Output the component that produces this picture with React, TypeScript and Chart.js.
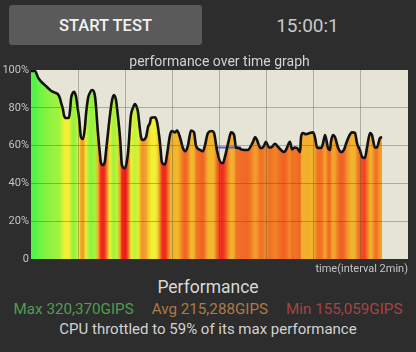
import React, { useEffect, useRef } from 'react';
import { Chart, registerables } from 'chart.js';

Chart.register(...registerables);

// time of each sample, minutes from test start
const sampleMinutes = [
  0, 0.17, 0.30, 0.42, 0.59, 0.72, 0.85, 1.02, 1.15, 1.23,
  1.27, 1.36, 1.40, 1.49, 1.61, 1.66, 1.70, 1.78, 1.82, 1.91,
  1.99, 2.04, 2.12, 2.21, 2.29, 2.33, 2.42, 2.50, 2.59, 2.72,
  2.84, 2.93, 2.97, 3.06, 3.14, 3.18, 3.27, 3.35, 3.44, 3.52,
  3.61, 3.65, 3.78, 3.86, 3.99, 4.07, 4.12, 4.24, 4.33, 4.41,
  4.50, 4.54, 4.62, 4.67, 4.75, 4.88, 4.97, 5.05, 5.09, 5.26,
  5.35, 5.47, 5.56, 5.69, 5.77, 5.90, 5.98, 6.11, 6.20, 6.32,
  6.45, 6.54, 6.66, 6.79, 6.92, 7.00, 7.17, 7.30, 7.38, 7.51,
  7.68, 7.77, 7.89, 8.06, 8.15, 8.23, 8.40, 8.49, 8.62, 8.70,
  8.83, 8.91, 9.08, 9.21, 9.34, 9.42, 9.51, 9.59, 9.72, 9.80,
  9.89, 9.97, 10.10, 10.19, 10.36, 10.44, 10.61, 10.74, 10.82, 10.99,
  11.08, 11.20, 11.29, 11.42, 11.46, 11.54, 11.67, 11.84, 11.97, 12.05,
  12.14, 12.31, 12.39, 12.48, 12.60, 12.69, 12.73, 12.82, 12.90, 13.03,
  13.16, 13.28, 13.37, 13.50, 13.62, 13.75, 13.84, 13.96, 14.05, 14.17,
  14.26, 14.39, 14.47, 14.60, 14.68, 14.81, 14.90,
];

// performance of each sample, % of max
const performancePct = [
  99.5, 99.5, 96, 94, 92, 90.5, 89, 88, 87, 85,
  83, 79, 76, 74.6, 74.6, 79, 85, 88, 88.5, 86,
  79, 74.6, 64.5, 63.5, 70, 76, 85, 88, 89.4, 85.7,
  67, 55, 50.8, 49.7, 52, 56.6, 67, 76, 84, 86.8,
  84, 80, 64, 49.7, 48, 52, 56.6, 76, 80, 82,
  80, 77.8, 69, 64.5, 63, 64.5, 70, 72, 74.6, 75,
  72.5, 62, 51, 50, 55, 65.6, 67.7, 67, 68, 64.5,
  58.7, 57, 60, 68, 67, 60, 57.7, 57, 60, 66.7,
  67.7, 66.7, 57.7, 51, 50.8, 54, 63, 67, 65.6, 59,
  58.7, 58, 57.7, 57.7, 60, 62, 64.5, 63, 59, 58.7,
  60, 62, 59, 59, 61, 60, 57.7, 56.6, 57.7, 62,
  58, 59, 58.7, 56.6, 64.5, 66.7, 66, 66.7, 67, 64.5,
  59, 58.7, 61, 65.6, 59, 57.7, 62, 65.6, 64.5, 59,
  56.6, 57.7, 61, 65, 67, 66.7, 61, 57.7, 54, 53.4,
  59, 66.7, 65.6, 59, 59, 64, 64.5,
];

// short blue marker segment
const markerMinutes = [7.89, 8.91];
const markerPct = [59, 59];

const yTickValues = [0, 20, 40, 60, 80, 100];
const xGridMinutes = [0, 2, 4, 6, 8, 10, 12, 14, 16];

const statLabels = ['Max 320,370GIPS', 'Avg 215,288GIPS', 'Min 155,059GIPS'];
const statColors = ['#4f9e4f', '#ad7b45', '#a64444'];

function perfColor(v: number): string {
  const h = Math.max(0, Math.min(120, (v - 49) * 2.3));
  const l = 53 + (h / 120) * 9;
  return `hsl(${h.toFixed(1)}, 88%, ${l.toFixed(1)}%)`;
}

const plotBackground = {
  id: 'plotBackground',
  beforeDraw(chart: any) {
    const { ctx, chartArea } = chart;
    if (!chartArea) return;
    ctx.save();
    ctx.fillStyle = '#e6e4d5';
    ctx.fillRect(chartArea.left, chartArea.top, chartArea.right - chartArea.left, chartArea.bottom - chartArea.top);
    ctx.restore();
  },
};

const gridColor = 'rgba(70,70,60,0.35)';

export default function App() {
  const ref = useRef<HTMLCanvasElement>(null);

  useEffect(() => {
    if (!ref.current) return;
    const chart = new Chart(ref.current, {
      type: 'line',
      data: {
        datasets: [
          {
            data: sampleMinutes.map((t, i) => ({ x: t, y: performancePct[i] })),
            borderColor: '#111111',
            borderWidth: 2.6,
            borderJoinStyle: 'round',
            pointRadius: 0,
            pointBackgroundColor: 'transparent',
            cubicInterpolationMode: 'monotone',
            fill: 'origin',
            backgroundColor: (ctx: any) => {
              const c = ctx.chart;
              const area = c.chartArea;
              const xs = c.scales && c.scales.x;
              if (!area || !xs) return 'rgba(0,0,0,0)';
              const g = c.ctx.createLinearGradient(area.left, 0, area.right, 0);
              const w = area.right - area.left;
              sampleMinutes.forEach((t, i) => {
                const p = (xs.getPixelForValue(t) - area.left) / w;
                g.addColorStop(Math.min(1, Math.max(0, p)), perfColor(performancePct[i]));
              });
              return g;
            },
          } as any,
          {
            data: markerMinutes.map((t, i) => ({ x: t, y: markerPct[i] })),
            borderColor: '#5564dc',
            borderWidth: 2,
            pointRadius: 0,
            fill: false,
          } as any,
        ],
      },
      options: {
        responsive: false,
        animation: false,
        devicePixelRatio: 1,
        layout: { padding: { left: 0, right: 8, top: 0, bottom: 0 } },
        plugins: {
          legend: { display: false },
          tooltip: { enabled: false },
          filler: { propagate: false, drawTime: 'beforeDatasetsDraw' } as any,
          title: {
            display: true,
            text: 'performance over time graph',
            color: '#d2d2d2',
            fullSize: false,
            font: { family: 'Roboto', size: 14, weight: 'normal', lineHeight: 1 },
            padding: { top: 3.5, bottom: 0.5 },
          },
        },
        scales: {
          x: {
            type: 'linear',
            min: 0,
            max: 16,
            afterBuildTicks: (s: any) => {
              s.ticks = xGridMinutes.map((v) => ({ value: v }));
            },
            afterFit: (s: any) => {
              s.height = 17;
            },
            ticks: { display: false },
            grid: {
              z: 1,
              drawTicks: false,
              color: (c: any) => (c.tick && (c.tick.value === 0 || c.tick.value === 16) ? 'rgba(0,0,0,0)' : gridColor),
              lineWidth: 1,
            },
            border: { display: false },
            title: {
              display: true,
              text: 'time(interval 2min)',
              align: 'end',
              color: '#c4c4c4',
              font: { family: 'Roboto', size: 11 },
              padding: { top: 0, bottom: 0.5 },
            },
          } as any,
          y: {
            type: 'linear',
            min: 0,
            max: 100,
            afterBuildTicks: (s: any) => {
              s.ticks = yTickValues.map((v) => ({ value: v }));
            },
            afterFit: (s: any) => {
              s.width = 31;
            },
            ticks: {
              color: '#c4c4c4',
              font: { family: 'Roboto', size: 11 },
              padding: 2,
              callback: (v: any) => (Number(v) === 0 ? '0' : v + '%'),
            },
            grid: {
              z: 1,
              drawTicks: false,
              color: (c: any) => (c.tick && (c.tick.value === 0 || c.tick.value === 100) ? 'rgba(0,0,0,0)' : gridColor),
              lineWidth: 1,
            },
            border: { display: false },
          } as any,
        },
      },
      plugins: [plotBackground],
    });
    return () => chart.destroy();
  }, []);

  const centered: React.CSSProperties = {
    position: 'absolute',
    display: 'flex',
    alignItems: 'center',
    justifyContent: 'center',
    whiteSpace: 'nowrap',
  };

  return (
    <div
      style={{
        position: 'fixed',
        left: 0,
        top: 0,
        width: 416,
        height: 352,
        background: '#2d2d2d',
        fontFamily: 'Roboto, "Noto Sans", sans-serif',
        overflow: 'hidden',
      }}
    >
      <div
        style={{
          ...centered,
          left: 9,
          top: 5,
          width: 193,
          height: 40,
          background: '#5a5a5a',
          borderRadius: 3,
          color: '#f2f2f2',
          fontSize: 16.5,
          fontWeight: 500,
        }}
      >
        START TEST
      </div>
      <div style={{ ...centered, left: 230, top: 5, width: 155, height: 41, color: '#c8c8c8', fontSize: 19 }}>
        15:00:1
      </div>
      <canvas
        ref={ref}
        width={416}
        height={224}
        style={{ position: 'absolute', left: 0, top: 52, width: 416, height: 224 }}
      />
      <div style={{ ...centered, left: 0, top: 277, width: 416, height: 20, color: '#d8d8d8', fontSize: 17.5 }}>
        Performance
      </div>
      <div style={{ ...centered, left: 0, top: 299, width: 416, height: 20, fontSize: 15.2, gap: 18 }}>
        {statLabels.map((s, i) => (
          <span key={s} style={{ color: statColors[i] }}>
            {s}
          </span>
        ))}
      </div>
      <div style={{ ...centered, left: 0, top: 319, width: 416, height: 20, color: '#d2d2d2', fontSize: 15 }}>
        CPU throttled to 59% of its max performance
      </div>
    </div>
  );
}
